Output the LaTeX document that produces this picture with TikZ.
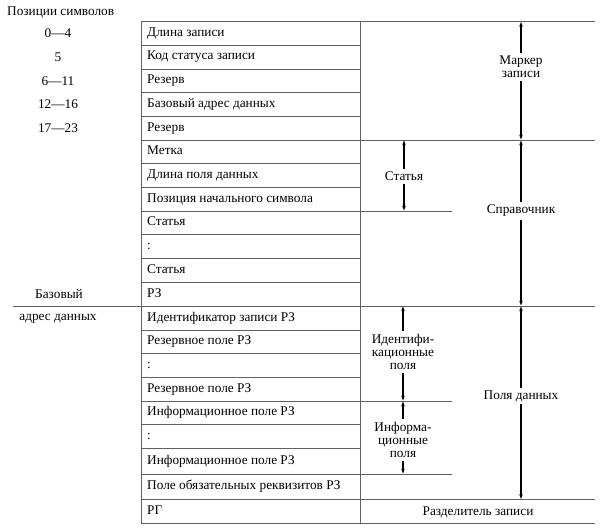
\documentclass[tikz,border=0pt]{standalone}
\usepackage{fontspec}
\setmainfont{Liberation Serif}
\usetikzlibrary{arrows.meta}
\begin{document}
\begin{tikzpicture}[x=1pt,y=-1pt,
  rule/.style={draw=black!62, line width=0.8pt},
  cell/.style={anchor=west, inner sep=0pt, font=\fontsize{13.3}{15}\selectfont},
  postext/.style={inner sep=0pt, font=\fontsize{13.3}{15}\selectfont},
  lbl/.style={align=center, inner sep=2.5pt, font=\fontsize{13.3}{13.2}\selectfont, fill=white},
  arr/.style={-{Stealth[length=5pt,width=3.5pt]}, line width=1.3pt, black, shorten >=0.4pt}]
\useasboundingbox (0,0) rectangle (605,529);
% grid
\foreach \b in {45,69,92.7,116.5,163.7,187.5,211,234.8,258.5,282.2,330,353.8,377.5,401,424.5,448.3,474}
  \draw[rule] (141,\b) -- (360,\b);
\foreach \b in {21.5,140,306,499.5,523}
  \draw[rule] (141,\b) -- (595,\b);
\foreach \b in {211,401,474}
  \draw[rule] (360,\b) -- (452,\b);
\draw[rule] (13,306) -- (141,306);
\draw[rule] (141,21.5) -- (141,523);
\draw[rule] (360,21.5) -- (360,523);
% cell texts
\foreach \n/\a/\b/\t in {
  0/21.5/45/{Длина записи},
  1/45/69/{Код статуса записи},
  2/69/92.7/{Резерв},
  3/92.7/116.5/{Базовый адрес данных},
  4/116.5/140/{Резерв},
  5/140/163.7/{Метка},
  6/163.7/187.5/{Длина поля данных},
  7/187.5/211/{Позиция начального символа},
  8/211/234.8/{Статья},
  9/234.8/258.5/{:},
  10/258.5/282.2/{Статья},
  11/282.2/306/{РЗ},
  12/306/330/{Идентификатор записи РЗ},
  13/330/353.8/{Резервное поле РЗ},
  14/353.8/377.5/{:},
  15/377.5/401/{Резервное поле РЗ},
  16/401/424.5/{Информационное поле РЗ},
  17/424.5/448.3/{:},
  18/448.3/474/{Информационное поле РЗ},
  19/474/499.5/{Поле обязательных реквизитов РЗ},
  20/499.5/523/{РГ}}
  \node[cell] (r\n) at (147,{(\a+\b)/2}) {\strut\t};
% left texts
\node[postext, anchor=west] (head) at (7,12) {Позиции символов};
\node[postext] (p0) at (58,33.2) {0—4};
\node[postext] (p1) at (58,57) {5};
\node[postext] (p2) at (58,80.8) {6—11};
\node[postext] (p3) at (58,104.6) {12—16};
\node[postext] (p4) at (58,128.2) {17—23};
\node[postext] (bz) at (59,294.5) {Базовый};
\node[postext] (ad) at (58,318.5) {адрес данных};
% arrow endpoints
\coordinate (mkT) at (521,21.5);
\coordinate (mkB) at (521,140);
\coordinate (spT) at (521,140);
\coordinate (spB) at (521,306);
\coordinate (pdT) at (521,306);
\coordinate (pdB) at (521,499.5);
\coordinate (stT) at (404,140);
\coordinate (stB) at (404,211);
\coordinate (idT) at (403,306);
\coordinate (idB) at (403,401);
\coordinate (inT) at (403,401);
\coordinate (inB) at (403,474);
% labels
\node[lbl] (mk) at (521,67) {Маркер\\записи};
\node[lbl] (sp) at (521,211) {Справочник};
\node[lbl] (pd) at (521,396) {Поля данных};
\node[lbl] (st) at (404,176.5) {Статья};
\node[lbl] (id) at (403,352) {Идентифи-\\кационные\\поля};
\node[lbl] (in) at (403,440) {Информа-\\ционные\\поля};
\node[lbl, fill=none] (rz) at (478,512) {Разделитель записи};
% arrows
\foreach \l/\t/\b in {mk/mkT/mkB, sp/spT/spB, pd/pdT/pdB, st/stT/stB, id/idT/idB, in/inT/inB}{
  \draw[arr] (\l.north) -- (\t);
  \draw[arr] (\l.south) -- (\b);
}
\end{tikzpicture}
\end{document}
